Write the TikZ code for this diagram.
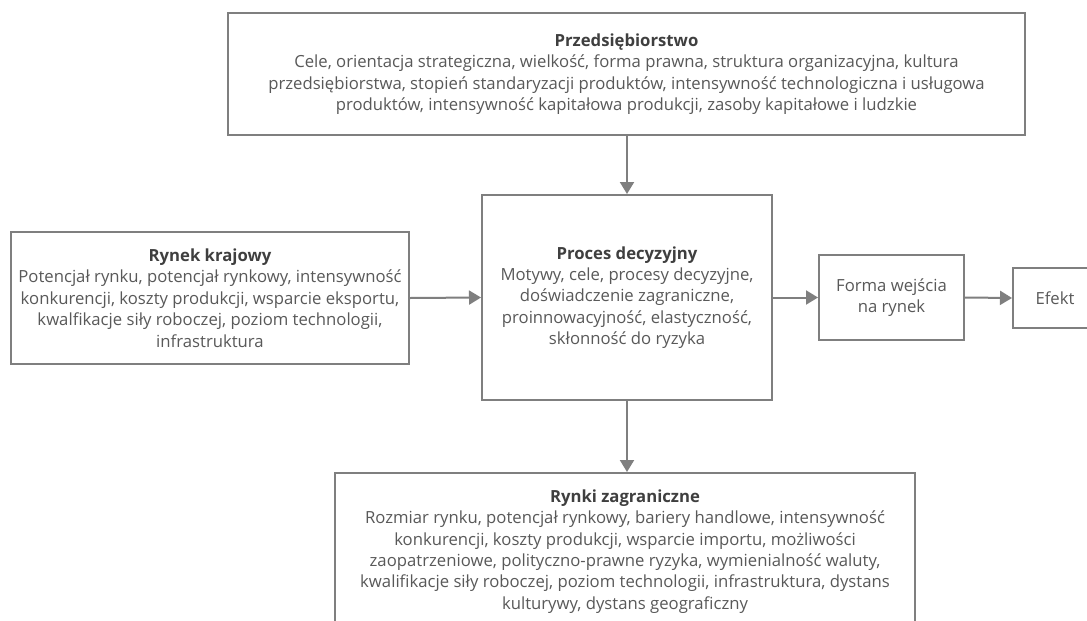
\documentclass[tikz,border=0pt]{standalone}
\usepackage{fontspec}
\setmainfont{Open Sans}
\usetikzlibrary{arrows.meta}
\definecolor{linegray}{HTML}{7F7F7F}
\definecolor{txtgray}{HTML}{595959}
\definecolor{ttlgray}{HTML}{3F3F3F}
\tikzset{
  box/.style={draw=linegray, line width=2pt, fill=white, rectangle, inner sep=0pt,
    align=center, text=txtgray, font=\fontsize{16.7}{21.4}\selectfont},
  arr/.style={draw=linegray, line width=2pt, -{Triangle[length=12pt,width=14pt]}},
}
\newcommand{\ttl}[1]{{\bfseries\color{ttlgray}#1}}
\begin{document}
\begin{tikzpicture}[x=1pt,y=-1pt]
\useasboundingbox (0,0) rectangle (1087,621);
\clip (0,0) rectangle (1087,621);
\fill[white] (0,0) rectangle (1087,621);
\node[box, minimum width=797pt, minimum height=122pt] (prz) at (626.5,74)
  {\ttl{Przedsiębiorstwo}\\
   Cele, orientacja strategiczna, wielkość, forma prawna, struktura organizacyjna, kultura\\
   przedsiębiorstwa, stopień standaryzacji produktów, intensywność technologiczna i usługowa\\
   produktów, intensywność kapitałowa produkcji, zasoby kapitałowe i ludzkie};
\node[box, minimum width=290pt, minimum height=205pt] (dec) at (627,297.5)
  {\ttl{Proces decyzyjny}\\
   Motywy, cele, procesy decyzyjne,\\
   doświadczenie zagraniczne,\\
   proinnowacyjność, elastyczność,\\
   skłonność do ryzyka};
\node[box, minimum width=398pt, minimum height=132pt] (kraj) at (210,298)
  {\ttl{Rynek krajowy}\\
   Potencjał rynku, potencjał rynkowy, intensywność\\
   konkurencji, koszty produkcji, wsparcie eksportu,\\
   kwalfikacje siły roboczej, poziom technologii,\\
   infrastruktura};
\node[box, minimum width=145pt, minimum height=85pt] (forma) at (891.5,297.5)
  {Forma wejścia\\na rynek};
\node[box, minimum width=84pt, minimum height=60pt] (efekt) at (1055,298)
  {Efekt};
\node[box, minimum width=580pt, minimum height=157pt] (zag) at (625,551.5)
  {\ttl{Rynki zagraniczne}\\
   Rozmiar rynku, potencjał rynkowy, bariery handlowe, intensywność\\
   konkurencji, koszty produkcji, wsparcie importu, możliwości\\
   zaopatrzeniowe, polityczno-prawne ryzyka, wymienialność waluty,\\
   kwalifikacje siły roboczej, poziom technologii, infrastruktura, dystans\\
   kulturywy, dystans geograficzny};
\draw[arr] (prz.south -| dec.north) -- (dec.north);
\draw[arr] (kraj.east) -- (dec.west);
\draw[arr] (dec.east) -- (forma.west);
\draw[arr] (forma.east) -- (efekt.west);
\draw[arr] (dec.south) -- (dec.south |- zag.north);
\end{tikzpicture}
\end{document}
